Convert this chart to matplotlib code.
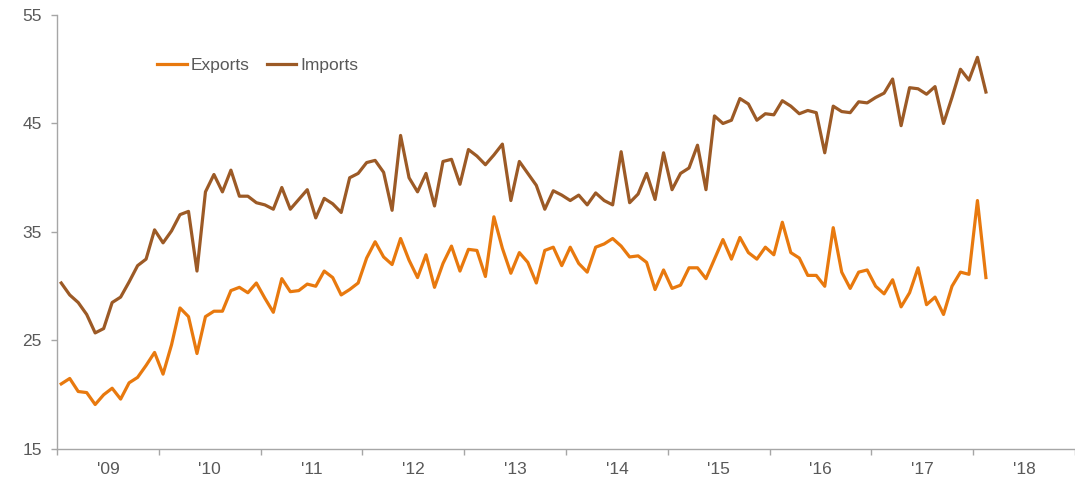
import matplotlib
matplotlib.use("Agg")
import matplotlib.pyplot as plt
import numpy as np

plt.rcParams['font.family'] = ['Liberation Sans', 'DejaVu Sans']

years = ["'09", "'10", "'11", "'12", "'13", "'14", "'15", "'16", "'17", "'18"]

exports = [21.0, 21.5, 20.3, 20.2, 19.1, 20.0, 20.6, 19.6, 21.1, 21.6, 22.7, 23.9, 21.9, 24.6, 28.0, 27.2, 23.8, 27.2, 27.7,
           27.7, 29.6, 29.9, 29.4, 30.3, 28.9, 27.6, 30.7, 29.5, 29.6, 30.2, 30.0, 31.4, 30.8, 29.2, 29.7, 30.3, 32.6,
           34.1, 32.7, 32.0, 34.4, 32.4, 30.8, 32.9, 29.9, 32.1, 33.7, 31.4, 33.4, 33.3, 30.9, 36.4, 33.5, 31.2, 33.1,
           32.2, 30.3, 33.3, 33.6, 31.9, 33.6, 32.1, 31.3, 33.6, 33.9, 34.4, 33.7, 32.7, 32.8, 32.2, 29.7, 31.5, 29.8,
           30.1, 31.7, 31.7, 30.7, 32.5, 34.3, 32.5, 34.5, 33.1, 32.5, 33.6, 32.9, 35.9, 33.1, 32.6, 31.0, 31.0, 30.0,
           35.4, 31.3, 29.8, 31.3, 31.5, 30.0, 29.3, 30.6, 28.1, 29.4, 31.7, 28.3, 29.0, 27.4, 30.0, 31.3, 31.1, 37.9, 30.8]

imports = [30.3, 29.2, 28.5, 27.4, 25.7, 26.1, 28.5, 29.0, 30.4, 31.9, 32.5, 35.2, 34.0, 35.1, 36.6, 36.9, 31.4, 38.7, 40.3,
           38.7, 40.7, 38.3, 38.3, 37.7, 37.5, 37.1, 39.1, 37.1, 38.0, 38.9, 36.3, 38.1, 37.6, 36.8, 40.0, 40.4, 41.4,
           41.6, 40.5, 37.0, 43.9, 40.0, 38.7, 40.4, 37.4, 41.5, 41.7, 39.4, 42.6, 42.0, 41.2, 42.1, 43.1, 37.9, 41.5,
           40.4, 39.3, 37.1, 38.8, 38.4, 37.9, 38.4, 37.5, 38.6, 37.9, 37.5, 42.4, 37.7, 38.5, 40.4, 38.0, 42.3, 38.9,
           40.4, 40.9, 43.0, 38.9, 45.7, 45.0, 45.3, 47.3, 46.8, 45.3, 45.9, 45.8, 47.1, 46.6, 45.9, 46.2, 46.0, 42.3,
           46.6, 46.1, 46.0, 47.0, 46.9, 47.4, 47.8, 49.1, 44.8, 48.3, 48.2, 47.7, 48.4, 45.0, 47.4, 50.0, 49.0, 51.1, 47.9]

yticks = [15, 25, 35, 45, 55]

W, H = 1075, 479
fig = plt.figure(figsize=(W / 100, H / 100), dpi=100)
px_per_month = 8.54
left_px, top_px, bottom_px = 57, 15, 449
ax = fig.add_axes([left_px / W, 1 - bottom_px / H, (W - left_px) / W, (bottom_px - top_px) / H])

x = np.arange(len(exports)) + 0.5
exp_color = '#E8790E'
imp_color = '#9C5A26'
ax.plot(x, exports, color=exp_color, lw=2.3, label='Exports', solid_joinstyle='round')
ax.plot(x, imports, color=imp_color, lw=2.3, label='Imports', solid_joinstyle='round')

ax.set_xlim(0, (W - left_px) / px_per_month)
ax.set_ylim(15, 55)

text_color = '#595959'
spine_color = '#A6A6A6'
fs = 12.5
for s in ['top', 'right']:
    ax.spines[s].set_visible(False)
for s in ['left', 'bottom']:
    ax.spines[s].set_color(spine_color)
    ax.spines[s].set_linewidth(1.0)

ax.set_yticks(yticks)
ax.set_yticklabels([str(v) for v in yticks])
ax.tick_params(axis='y', direction='out', length=4, width=1, color=spine_color,
               labelsize=fs, labelcolor=text_color, pad=7)

ax.set_xticks(np.arange(0, 12 * len(years) + 1, 12))
ax.set_xticklabels([])
ax.set_xticks(np.arange(len(years)) * 12 + 6, minor=True)
ax.set_xticklabels(years, minor=True)
ax.tick_params(axis='x', which='major', direction='out', length=4, width=1, color=spine_color)
ax.tick_params(axis='x', which='minor', length=0, labelsize=fs, labelcolor=text_color, pad=9)

leg = ax.legend(ncol=2, loc='center left', bbox_to_anchor=(157 / W, 1 - 65 / H),
                bbox_transform=fig.transFigure, frameon=False, fontsize=fs,
                handlelength=1.7, handletextpad=0.22, columnspacing=1.0,
                borderpad=0, borderaxespad=0)
for t in leg.get_texts():
    t.set_color(text_color)

fig.savefig('out.png', dpi=100)
